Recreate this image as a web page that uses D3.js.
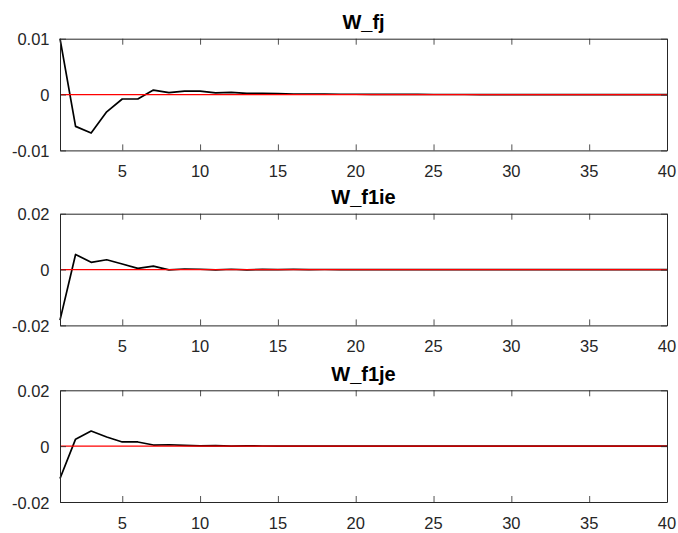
<!DOCTYPE html>
<html><head><meta charset="utf-8">
<script src="https://cdn.jsdelivr.net/npm/d3@7/dist/d3.min.js"></script>
<style>body{margin:0;background:#fff;}svg{display:block;font-family:"Liberation Sans",Arial,Helvetica,sans-serif;}</style>
</head><body>
<script>
const periods = d3.range(1, 41);
const titles = ["W_fj", "W_f1ie", "W_f1je"];
const yDomains = [[-0.01, 0.01], [-0.02, 0.02], [-0.02, 0.02]];
const yTicks = [[-0.01, 0, 0.01], [-0.02, 0, 0.02], [-0.02, 0, 0.02]];
const yTickLabels = [["-0.01", "0", "0.01"], ["-0.02", "0", "0.02"], ["-0.02", "0", "0.02"]];
const xTicks = [5, 10, 15, 20, 25, 30, 35, 40];
const seriesFj = [0.0100, -0.0057, -0.0069, -0.0031, -0.0008, -0.0008, 0.0008, 0.00035, 0.0006, 0.0006,
  0.0003, 0.0004, 0.0002, 0.0002, 0.00015, 0.0001, 0.0001, 0.0001, 0.00005, 0.00005,
  0.00003, 0.00003, 0.00002, 0.00002, 0.00001, 0.00001, 0.00001, 0, 0, 0,
  0, 0, 0, 0, 0, 0, 0, 0, 0, 0];
const seriesF1ie = [-0.0181, 0.0054, 0.0026, 0.0035, 0.0020, 0.0004, 0.0012, -0.0001, 0.0002, 0.0001,
  -0.0001, 0.0001, -0.0001, 0.00005, 0, 0.00003, -0.00002, 0.00002, 0, 0,
  0, 0, 0, 0, 0, 0, 0, 0, 0, 0,
  0, 0, 0, 0, 0, 0, 0, 0, 0, 0];
const seriesF1je = [-0.0116, 0.0025, 0.0054, 0.0033, 0.0015, 0.0015, 0.0004, 0.0005, 0.0003, 0.0001,
  0.0002, 0.0000, 0.0001, 0.00005, 0.00003, 0.00003, 0.00002, 0.00001, 0.00001, 0,
  0, 0, 0, 0, 0, 0, 0, 0, 0, 0,
  0, 0, 0, 0, 0, 0, 0, 0, 0, 0];
const allSeries = [seriesFj, seriesF1ie, seriesF1je];

const W = 678, H = 533;
const left = 60, right = 667;
const tops = [38.7, 213.7, 390.3];
const ph = 111.7;
const txt = "#262626";
const svg = d3.select("body").append("svg").attr("width", W).attr("height", H);
const x = d3.scaleLinear().domain([1, 40]).range([left, right]);

allSeries.forEach((vals, i) => {
  const top = tops[i], bottom = top + ph;
  const y = d3.scaleLinear().domain(yDomains[i]).range([bottom, top]);
  const g = svg.append("g");
  g.append("path").datum(vals.map((v, k) => [periods[k], v]))
    .attr("fill", "none").attr("stroke", "#000").attr("stroke-width", 1.7)
    .attr("stroke-linejoin", "round")
    .attr("d", d3.line().x(d => x(d[0])).y(d => y(d[1])));
  g.append("path").datum([[1, 0], [40, 0]])
    .attr("fill", "none").attr("stroke", "#ff0000").attr("stroke-width", 1.3)
    .attr("d", d3.line().x(d => x(d[0])).y(d => y(d[1])));
  const axStyle = s => s.call(a => a.select(".domain").attr("stroke", txt).attr("stroke-width", 1))
    .call(a => a.selectAll(".tick line").attr("stroke", txt).attr("stroke-width", 0.8))
    .call(a => a.selectAll("text").remove());
  g.append("g").attr("transform", `translate(0,${bottom})`)
    .call(d3.axisBottom(x).tickValues(xTicks).tickSizeInner(-6).tickSizeOuter(0)).call(axStyle);
  g.append("g").attr("transform", `translate(0,${top})`)
    .call(d3.axisTop(x).tickValues(xTicks).tickSizeInner(-6).tickSizeOuter(0)).call(axStyle);
  g.append("g").attr("transform", `translate(${left},0)`)
    .call(d3.axisLeft(y).tickValues(yTicks[i]).tickSizeInner(-6).tickSizeOuter(0)).call(axStyle);
  g.append("g").attr("transform", `translate(${right},0)`)
    .call(d3.axisRight(y).tickValues(yTicks[i]).tickSizeInner(-6).tickSizeOuter(0)).call(axStyle);
  g.selectAll(".xl").data(xTicks).enter().append("text")
    .attr("x", d => x(d)).attr("y", bottom + 27).attr("text-anchor", "middle")
    .attr("font-size", 16.5).attr("fill", txt).text(d => d);
  g.selectAll(".yl").data(yTicks[i]).enter().append("text")
    .attr("x", 49.5).attr("y", d => y(d) + 6.5).attr("text-anchor", "end")
    .attr("font-size", 16.5).attr("fill", txt).text((d, k) => yTickLabels[i][k]);
  g.append("text").attr("x", (left + right) / 2).attr("y", top - 9.5)
    .attr("text-anchor", "middle").attr("font-size", 20).attr("font-weight", "bold")
    .attr("fill", "#000").text(titles[i]);
});
</script>
</body></html>
